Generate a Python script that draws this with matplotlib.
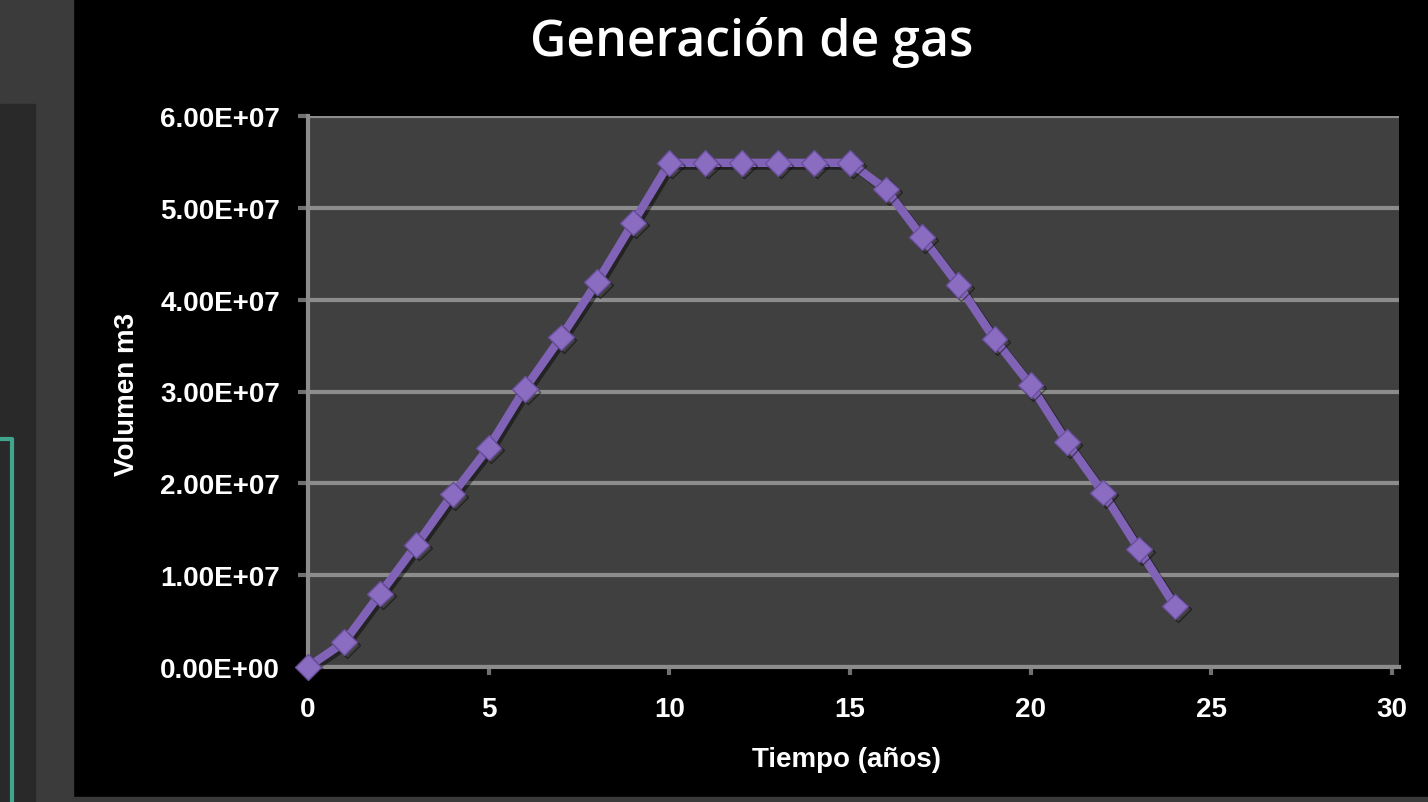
import matplotlib.pyplot as plt
import matplotlib.patheffects as pe
from matplotlib.patches import Rectangle
from matplotlib.lines import Line2D
from matplotlib.ticker import FuncFormatter

# datos
anios = list(range(0, 25))
volumen = [0.0, 2.7e6, 8.0e6, 1.33e7, 1.88e7, 2.39e7, 3.03e7, 3.59e7, 4.19e7,
           4.84e7, 5.49e7, 5.49e7, 5.49e7, 5.49e7, 5.49e7, 5.49e7, 5.20e7,
           4.68e7, 4.16e7, 3.57e7, 3.07e7, 2.45e7, 1.90e7, 1.28e7, 6.6e6]
y_ticks = [0, 1e7, 2e7, 3e7, 4e7, 5e7, 6e7]
x_ticks = [0, 5, 10, 15, 20, 25, 30]

W, H = 1428, 803
fig = plt.figure(figsize=(W / 100, H / 100), dpi=100, facecolor='black')


def fx(px):
    return px / W


def fy(py):
    return 1 - py / H


# fondo de la captura (paneles de la hoja a la izquierda)
fig.patches.append(Rectangle((0, 0), fx(73), 1, transform=fig.transFigure,
                             color='#3b3b3b', zorder=0))
fig.patches.append(Rectangle((0, 0), fx(35), fy(105), transform=fig.transFigure,
                             color='#292929', zorder=0))
fig.patches.append(Rectangle((fx(73), 0), 1, fy(798), transform=fig.transFigure,
                             color='#3a3a3a', zorder=0))
fig.lines.append(Line2D([0, fx(12), fx(12)], [fy(440), fy(440), 0],
                        transform=fig.transFigure, color='#3fa58c', lw=3))

ax = fig.add_axes([fx(308), fy(668), fx(1399 - 308), fy(117) - fy(668)])
ax.set_facecolor('#404040')

ax.plot(anios, volumen, color='#8063b6', lw=6, marker='D', markersize=13,
        markerfacecolor='#8a6cc0', markeredgecolor='#6a4f9c', markeredgewidth=1,
        path_effects=[pe.SimpleLineShadow(offset=(2, -2), shadow_color='black', alpha=0.45),
                      pe.Normal()], zorder=3, clip_on=False)

ax.set_xlim(0, 30 * (1399 - 308) / (1392 - 308))
ax.set_ylim(0, 6e7)
ax.set_xticks(x_ticks)
ax.set_yticks(y_ticks)
ax.yaxis.set_major_formatter(FuncFormatter(lambda v, p: '{:.2E}'.format(v)))
ax.grid(axis='y', color='#8c8c8c', lw=3)
ax.set_axisbelow(True)

for s in ['top', 'right']:
    ax.spines[s].set_visible(False)
for s in ['left', 'bottom']:
    ax.spines[s].set_color('#8c8c8c')
    ax.spines[s].set_linewidth(3)

ax.tick_params(axis='y', colors='#707070', width=3, length=7, pad=13,
               labelcolor='white', labelsize=20)
ax.tick_params(axis='x', colors='#707070', width=3, length=6, pad=15,
               labelcolor='white', labelsize=20)
for lab in ax.get_xticklabels() + ax.get_yticklabels():
    lab.set_fontfamily('Liberation Sans')
    lab.set_fontweight('bold')

fig.text(fx(752), fy(42), 'Generación de gas', color='white', fontsize=36,
         fontweight='semibold', family='Open Sans', ha='center', va='center')
fig.text(fx(127), fy(394), 'Volumen m3', color='white', fontsize=20,
         fontweight='bold', family='Liberation Sans', ha='center', va='center',
         rotation=90)
fig.text(fx(847), fy(760), 'Tiempo (años)', color='white', fontsize=20,
         fontweight='bold', family='Liberation Sans', ha='center', va='center')

fig.savefig('out.png', dpi=100, facecolor=fig.get_facecolor())
